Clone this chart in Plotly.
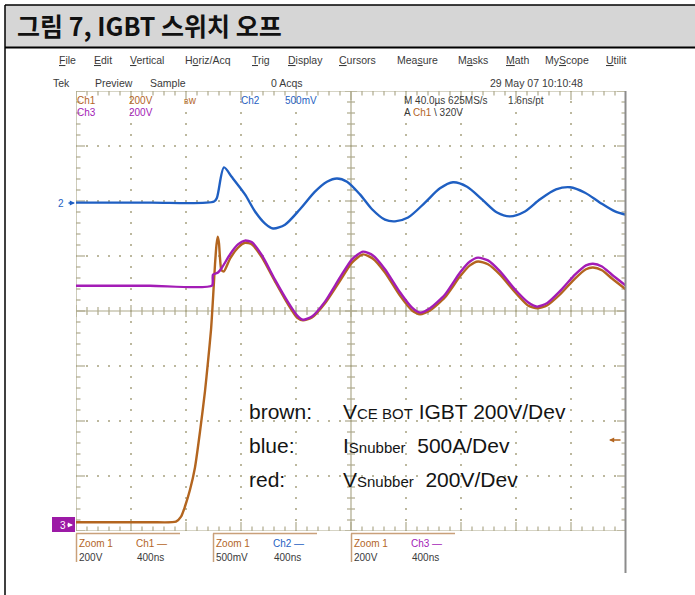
import plotly.graph_objects as go

# ---------------------------------------------------------------------------
# Scope screen: 10 horizontal divisions of 400 ns, 8 vertical divisions.
# Trace values are in vertical divisions measured from the screen centre.
# ---------------------------------------------------------------------------
T_DIV_NS = 400
N_XDIV = 10
N_YDIV = 8

# Ch2 (blue) - snubber current
ch2_t = [0, 538, 1004, 1025, 1076, 1135, 1229, 1302, 1375, 1433, 1520, 1629,
         1738, 1825, 1898, 1971, 2065, 2153, 2247, 2320, 2415, 2538, 2647,
         2742, 2844, 2953, 3062, 3156, 3265, 3375, 3491, 3593, 3702, 3811,
         3920, 4000]
ch2_v = [1.97, 1.97, 1.99, 2.06, 2.61, 2.43, 2.12, 1.81, 1.59, 1.50, 1.57,
         1.85, 2.17, 2.35, 2.41, 2.35, 2.12, 1.85, 1.66, 1.63, 1.70, 1.97,
         2.23, 2.34, 2.26, 2.03, 1.79, 1.72, 1.81, 2.03, 2.21, 2.25, 2.15,
         1.97, 1.81, 1.75]

# Ch1 (brown) - collector-emitter voltage of the bottom IGBT
ch1_t = [0, 538, 727, 764, 793, 829, 865, 902, 938, 960, 982, 996, 1011,
         1022, 1031, 1040, 1047, 1058, 1076, 1120, 1178, 1229, 1280, 1353,
         1447, 1542, 1607, 1651, 1716, 1811, 1920, 2007, 2087, 2160, 2247,
         2356, 2444, 2502, 2575, 2684, 2793, 2865, 2924, 2996, 3084, 3193,
         3287, 3353, 3425, 3520, 3629, 3709, 3760, 3825, 3898, 4000]
ch1_v = [-3.84, -3.84, -3.83, -3.74, -3.55, -3.25, -2.85, -2.19, -1.46,
         -0.92, -0.34, 0.21, 0.85, 1.21, 1.35, 1.23, 0.97, 0.74, 0.72, 0.95,
         1.15, 1.24, 1.21, 0.97, 0.54, 0.12, -0.12, -0.17, -0.12, 0.14, 0.55,
         0.88, 1.03, 0.95, 0.70, 0.28, 0.01, -0.06, 0.01, 0.25, 0.63, 0.83,
         0.90, 0.85, 0.66, 0.34, 0.10, 0.05, 0.10, 0.30, 0.59, 0.76, 0.79,
         0.74, 0.59, 0.39]

# Ch3 (purple) - snubber voltage
ch3_t = [0, 538, 989, 996, 1033, 1062, 1120, 1178, 1229, 1280, 1353, 1447,
         1542, 1607, 1651, 1716, 1811, 1920, 2007, 2087, 2160, 2247, 2356,
         2444, 2502, 2575, 2684, 2793, 2865, 2924, 2996, 3084, 3193, 3287,
         3353, 3425, 3520, 3629, 3709, 3760, 3825, 3898, 4000]
ch3_v = [0.46, 0.46, 0.46, 0.66, 0.70, 0.79, 1.03, 1.21, 1.28, 1.25, 1.01,
         0.57, 0.16, -0.08, -0.16, -0.10, 0.17, 0.61, 0.94, 1.08, 1.01, 0.76,
         0.34, 0.06, -0.03, 0.05, 0.30, 0.70, 0.90, 0.97, 0.92, 0.72, 0.39,
         0.16, 0.08, 0.14, 0.36, 0.66, 0.83, 0.86, 0.81, 0.66, 0.46]

# Text shown on the scope screen
menu_items = ["<u>F</u>ile", "<u>E</u>dit", "<u>V</u>ertical", "H<u>o</u>riz/Acq",
              "<u>T</u>rig", "<u>D</u>isplay", "<u>C</u>ursors", "Mea<u>s</u>ure",
              "M<u>a</u>sks", "<u>M</u>ath", "My<u>S</u>cope", "<u>U</u>tilit"]
legend_names = ["brown:", "blue:", "red:"]
legend_desc = [
    "V<span style='font-size:15px'>CE BOT</span> IGBT 200V/Dev",
    "I<span style='font-size:15px'>Snubber</span>\u00a0 500A/Dev",
    "V<span style='font-size:15px'>Snubber</span>\u00a0 200V/Dev",
]

BLUE = "#1f5fc2"
BROWN = "#b3651f"
PURPLE = "#a31cb6"
GRID = "#aea98c"
DOT = "#bcb89e"
UI = "#3a3a3a"
UI_FONT = "Liberation Sans"

# Screen geometry in page pixels
W, H = 695, 595
L, R, T, B = 76, 626, 91, 531
PX_X = T_DIV_NS * N_XDIV / (R - L)      # ns per pixel
PX_Y = N_YDIV / (B - T)                 # divisions per pixel
X_MAX = T_DIV_NS * N_XDIV
Y_HALF = N_YDIV / 2


def paper(x, y):
    return (x - L) / (R - L), (B - y) / (B - T)


fig = go.Figure()

# --- graticule dots --------------------------------------------------------
dx, dy = [], []
for k in range(1, N_XDIV):
    if k == N_XDIV // 2:
        continue
    for i in range(0, N_YDIV * 5 + 1):
        dx.append(k * T_DIV_NS)
        dy.append(-Y_HALF + i * 0.2)
for j in range(1, N_YDIV):
    yv = -Y_HALF + j
    if yv == 0:
        continue
    for i in range(0, N_XDIV * 5 + 1):
        dx.append(i * T_DIV_NS / 5)
        dy.append(yv)
fig.add_trace(go.Scatter(x=dx, y=dy, mode="markers", hoverinfo="skip",
                         marker=dict(size=2, color=DOT, symbol="square"),
                         showlegend=False))

# --- tick marks on the borders and centre lines ----------------------------
sx, sy = [], []


def seg(x0, y0, x1, y1):
    sx.extend([x0, x1, None])
    sy.extend([y0, y1, None])


for i in range(0, N_YDIV * 5 + 1):
    yv = -Y_HALF + i * 0.2
    major = i % 5 == 0
    ln = 9 if major else 4.5
    seg(0, yv, ln * PX_X, yv)
    seg(X_MAX, yv, X_MAX - ln * PX_X, yv)
    c = 6 if major else 4
    seg(X_MAX / 2 - c * PX_X, yv, X_MAX / 2 + c * PX_X, yv)
for i in range(0, N_XDIV * 5 + 1):
    xv = i * T_DIV_NS / 5
    major = i % 5 == 0
    ln = 9 if major else 4.5
    seg(xv, Y_HALF, xv, Y_HALF - ln * PX_Y)
    seg(xv, -Y_HALF, xv, -Y_HALF + ln * PX_Y)
    c = 6 if major else 4
    seg(xv, -c * PX_Y, xv, c * PX_Y)
# centre cross and outer border
seg(X_MAX / 2, -Y_HALF, X_MAX / 2, Y_HALF)
seg(0, 0, X_MAX, 0)
seg(0, -Y_HALF, 0, Y_HALF)
seg(0, Y_HALF, X_MAX, Y_HALF)
seg(0, -Y_HALF, X_MAX, -Y_HALF)
fig.add_trace(go.Scatter(x=sx, y=sy, mode="lines", hoverinfo="skip",
                         line=dict(color=GRID, width=1.2), showlegend=False))

# --- waveforms -------------------------------------------------------------
fig.add_trace(go.Scatter(x=ch2_t, y=ch2_v, mode="lines", name="Ch2",
                         line=dict(color=BLUE, width=2.4, shape="spline",
                                   smoothing=0.8), showlegend=False))
fig.add_trace(go.Scatter(x=ch1_t, y=ch1_v, mode="lines", name="Ch1",
                         line=dict(color=BROWN, width=2.4, shape="spline",
                                   smoothing=0.6), showlegend=False))
fig.add_trace(go.Scatter(x=ch3_t, y=ch3_v, mode="lines", name="Ch3",
                         line=dict(color=PURPLE, width=2.4, shape="spline",
                                   smoothing=0.6), showlegend=False))

# --- page furniture (shapes in page pixels) --------------------------------
shapes = []


def rect_px(x0, y0, x1, y1, fill=None, line=None, lw=0):
    a, b = paper(x0, y0)
    c, d = paper(x1, y1)
    shapes.append(dict(type="rect", xref="paper", yref="paper", x0=a, y0=d,
                       x1=c, y1=b, fillcolor=fill or "rgba(0,0,0,0)",
                       line=dict(color=line or "rgba(0,0,0,0)", width=lw),
                       layer="above"))


def line_px(x0, y0, x1, y1, color, lw):
    a, b = paper(x0, y0)
    c, d = paper(x1, y1)
    shapes.append(dict(type="line", xref="paper", yref="paper", x0=a, y0=b,
                       x1=c, y1=d, line=dict(color=color, width=lw),
                       layer="above"))


# caption header
rect_px(5, 5, W + 2, 47, fill="#d6d6d6")
line_px(5, 5, W, 5, "#000000", 1.5)
line_px(5, 47.5, W, 47.5, "#000000", 2)
line_px(5, 5, 5, H, "#000000", 1.5)
# right edge of the scope window
line_px(625.5, T, 625.5, 573, "#8c8c8c", 2)
# channel 3 reference marker
rect_px(52, 517, 75, 532, fill="#9c1aa6")
# zoom readout brackets
for x0, x1 in [(76, 180), (213, 317), (351, 455)]:
    line_px(x0, 533.5, x1, 533.5, "#c9a07a", 1.5)
    line_px(x0 + 0.5, 533.5, x0 + 0.5, 562, "#c9a07a", 1.5)

ann = []


def txt(x, y, s, color=UI, size=10.5, family=UI_FONT, anchor="left"):
    a, b = paper(x, y)
    ann.append(dict(x=a, y=b, xref="paper", yref="paper", text=s,
                    showarrow=False, xanchor=anchor, yanchor="middle",
                    font=dict(color=color, size=size, family=family)))


def arrow(x_tip, y, length, color):
    a, b = paper(x_tip, y)
    ann.append(dict(x=a, y=b, xref="paper", yref="paper", text="",
                    showarrow=True, ax=length, ay=0, arrowhead=2,
                    arrowsize=0.8, arrowwidth=1.3, arrowcolor=color))


# title
txt(15, 25, "<b>그림 7, IGBT 스위치 오프</b>", color="#111111", size=25,
    family="Noto Sans CJK KR")

# menu bar
menu_x = [57, 92, 128, 183, 250, 286, 337, 395, 456, 504, 543, 604]
for xm, s in zip(menu_x, menu_items):
    txt(xm, 60, s)

# status line
txt(51, 83, "Tek")
txt(93, 83, "Preview")
txt(148, 83, "Sample")
txt(269, 83, "0 Acqs")
txt(488, 83, "29 May 07 10:10:48")

# channel readouts
txt(75, 100, "Ch1", BROWN, 10)
txt(127, 100, "200V", BROWN, 10)
txt(182, 100, "<span style='font-size:7px'>B</span>w", BROWN, 10)
txt(239, 100, "Ch2", BLUE, 10)
txt(283, 100, "500mV", BLUE, 10)
txt(75, 112, "Ch3", PURPLE, 10)
txt(127, 112, "200V", PURPLE, 10)
txt(402, 100, "M 40.0µs 625MS/s", UI, 10)
txt(506, 100, "1.6ns/pt", UI, 10)
txt(402, 112, "A <span style='color:%s'>Ch1</span> \\ 320V" % BROWN, UI, 10)

# zoom readouts
for x0, ch, col, scale in [(76, "Ch1 —", BROWN, "200V"),
                           (213, "Ch2 —", BLUE, "500mV"),
                           (351, "Ch3 —", PURPLE, "200V")]:
    txt(x0 + 1, 543, "Zoom 1", BROWN, 10)
    txt(x0 + 58, 543, ch, col, 10)
    txt(x0 + 1, 557, scale, UI, 10)
    txt(x0 + 59, 557, "400ns", UI, 10)

# position markers
txt(56, 203, "2", BLUE, 10)
arrow(75, 203, -8, BLUE)
txt(58, 525, "3", "#ffffff", 10)
arrow(73, 525, -7, "#ffffff")
arrow(609, 440, 13, BROWN)

# channel legend
for i, (name, desc) in enumerate(zip(legend_names, legend_desc)):
    yy = 411 + 34 * i
    txt(247, yy, name, "#141414", 21)
    txt(341, yy, desc, "#141414", 21)

fig.update_layout(
    width=W, height=H,
    margin=dict(l=L, r=W - R, t=T, b=H - B, pad=0),
    paper_bgcolor="#ffffff", plot_bgcolor="#ffffff",
    xaxis=dict(range=[0, X_MAX], visible=False, fixedrange=True),
    yaxis=dict(range=[-Y_HALF, Y_HALF], visible=False, fixedrange=True),
    shapes=shapes, annotations=ann, showlegend=False,
)

fig.write_html("out.html")
